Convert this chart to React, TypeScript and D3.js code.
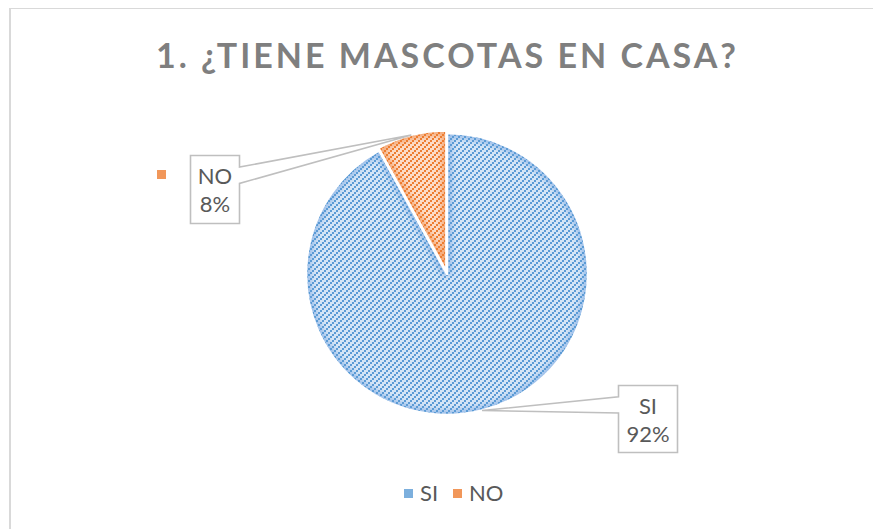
import React, { useRef, useEffect } from "react";
import * as d3 from "d3";

// chart data
const title = "1. ¿TIENE MASCOTAS EN CASA?";
const categories = ["SI", "NO"];
const values = [92, 8];
const percentLabels = ["92%", "8%"];
const dotColors = ["#5b9bd5", "#ed7d31"];
const backColors = ["#d5e5f6", "#fcdcc8"];
const edgeColors = ["#9dc0ea", "#f4ac7c"];

const W = 873;
const H = 529;

const App = () => {
	const chart_svg = useRef(null);

	useEffect(() => {
		const svg = d3.select(chart_svg.current);
		svg.selectAll("*").remove();

		const cx = 447;
		const cy = 274;
		const radius = 141;
		const font = "Lato, 'Liberation Sans', sans-serif";

		// chart area border
		svg.append("rect").attr("width", W).attr("height", H).attr("fill", "#fff");
		svg.append("line").attr("x1", 10).attr("x2", 10).attr("y1", 8).attr("y2", H)
			.attr("stroke", "#d9d9d9").attr("stroke-width", 2);
		svg.append("line").attr("x1", 9).attr("x2", W).attr("y1", 8.5).attr("y2", 8.5)
			.attr("stroke", "#d9d9d9").attr("stroke-width", 1);

		const defs = svg.append("defs");
		defs.append("filter").attr("id", "soft")
			.append("feGaussianBlur").attr("stdDeviation", 2.5);

		// dotted diagonal pattern per series
		categories.forEach((c, i) => {
			const pat = defs.append("pattern")
				.attr("id", `dots_${i}`)
				.attr("patternUnits", "userSpaceOnUse")
				.attr("width", 6).attr("height", 6);
			[[0, 4], [2, 2], [4, 0]].forEach(([x, y]) => {
				pat.append("rect").attr("x", x).attr("y", y)
					.attr("width", 2).attr("height", 2)
					.attr("fill", dotColors[i])
					.attr("shape-rendering", "crispEdges");
			});
		});

		// title
		svg.append("text")
			.attr("x", 446).attr("y", 68)
			.attr("text-anchor", "middle")
			.attr("textLength", 580)
			.attr("lengthAdjust", "spacing")
			.style("font-family", font)
			.style("font-weight", "bold")
			.style("font-size", "34px")
			.attr("fill", "#7f7f7f")
			.text(title);

		// pie
		const pie = d3.pie().sort(null).value(d => d);
		const arcs = pie(values);
		const arc = d3.arc().innerRadius(0).outerRadius(radius);
		const explode = [0, 2.5];

		const g = svg.append("g").attr("transform", `translate(${cx}, ${cy})`);

		arcs.forEach((a, i) => {
			const mid = (a.startAngle + a.endAngle) / 2;
			const dx = Math.sin(mid) * explode[i];
			const dy = -Math.cos(mid) * explode[i];
			const sg = g.append("g").attr("transform", `translate(${dx}, ${dy})`);
			const clip = defs.append("clipPath").attr("id", `clip_${i}`);
			clip.append("path").attr("d", arc(a));
			const inner = sg.append("g").attr("clip-path", `url(#clip_${i})`);
			inner.append("path").attr("d", arc(a)).attr("fill", backColors[i]);
			inner.append("path").attr("d", arc(a))
				.attr("fill", "none")
				.attr("stroke", edgeColors[i])
				.attr("stroke-width", 10)
				.attr("filter", "url(#soft)");
			inner.append("rect")
				.attr("x", -cx).attr("y", -cy)
				.attr("width", W).attr("height", H)
				.attr("fill", `url(#dots_${i})`)
				.attr("transform", `translate(${cx % 6 - dx}, ${cy % 6 - dy})`);
			sg.append("path").attr("d", arc(a))
				.attr("fill", "none")
				.attr("stroke", "#fff")
				.attr("stroke-width", 2.5)
				.attr("stroke-linejoin", "round");
		});

		// data label callouts (box position is layout, target is the arc midpoint)
		const labelBoxes = [
			{ x: 618.5, y: 385.5, w: 59, h: 67, side: "left" },
			{ x: 190.5, y: 155.5, w: 49, h: 68, side: "right" },
		];
		arcs.forEach((a, i) => {
			const b = labelBoxes[i];
			const mid = (a.startAngle + a.endAngle) / 2;
			const px = cx + Math.sin(mid) * (radius + explode[i]);
			const py = cy - Math.cos(mid) * (radius + explode[i]);
			const y1 = b.y + b.h * 0.17;
			const y2 = b.y + b.h * 0.41;
			const path = d3.path();
			if (b.side === "right") {
				path.moveTo(b.x, b.y);
				path.lineTo(b.x + b.w, b.y);
				path.lineTo(b.x + b.w, y1);
				path.lineTo(px, py);
				path.lineTo(b.x + b.w, y2);
				path.lineTo(b.x + b.w, b.y + b.h);
				path.lineTo(b.x, b.y + b.h);
				path.closePath();
			} else {
				path.moveTo(b.x, b.y);
				path.lineTo(b.x + b.w, b.y);
				path.lineTo(b.x + b.w, b.y + b.h);
				path.lineTo(b.x, b.y + b.h);
				path.lineTo(b.x, y2);
				path.lineTo(px, py);
				path.lineTo(b.x, y1);
				path.closePath();
			}
			svg.append("path").attr("d", path.toString())
				.attr("fill", "#fff")
				.attr("stroke", "#bfbfbf")
				.attr("stroke-width", 1.6);

			const t = svg.append("text")
				.attr("text-anchor", "middle")
				.style("font-family", font)
				.style("font-size", "22px")
				.attr("fill", "#595959");
			t.append("tspan").attr("x", b.x + b.w / 2).attr("y", b.y + 28).text(categories[i]);
			t.append("tspan").attr("x", b.x + b.w / 2).attr("y", b.y + 56).text(percentLabels[i]);
		});

		// legend key shown beside the NO label
		svg.append("rect").attr("x", 157).attr("y", 170).attr("width", 9).attr("height", 9)
			.attr("fill", dotColors[1]).attr("opacity", 0.8);

		// legend
		const legendX = [404, 453];
		categories.forEach((c, i) => {
			svg.append("rect").attr("x", legendX[i]).attr("y", 489)
				.attr("width", 9).attr("height", 9)
				.attr("fill", dotColors[i]).attr("opacity", 0.8);
			svg.append("text")
				.attr("x", legendX[i] + 16).attr("y", 501)
				.style("font-family", font)
				.style("font-size", "22px")
				.attr("fill", "#595959")
				.text(c);
		});
	}, []);

	return (
		<svg ref={chart_svg} width={W} height={H}
			style={{ position: "absolute", left: 0, top: 0 }}>
		</svg>
	);
};

export default App;
